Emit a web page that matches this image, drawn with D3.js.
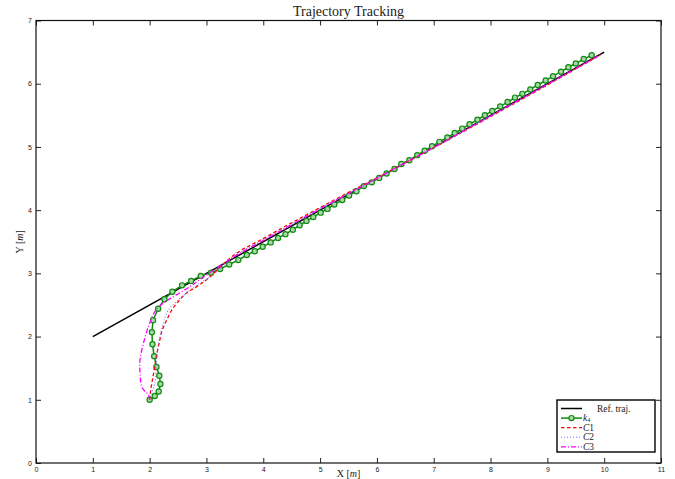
<!DOCTYPE html>
<html>
<head>
<meta charset="utf-8">
<script src="https://cdn.jsdelivr.net/npm/d3@7"></script>
<style>
  body { margin: 0; background: #fff; }
  svg { display: block; }
  .tick text { font-family: "Liberation Sans", Arial, sans-serif; font-size: 7px; fill: #222; }
  .serif { font-family: "Liberation Serif", "DejaVu Serif", serif; fill: #222; }
</style>
</head>
<body>
<svg id="chart" width="675" height="479"></svg>
<script>
// Reference trajectory (straight line)
var refX = [1, 10];
var refY = [2, 6.5];

// k4 controller, one entry per marker
var k4X = [2.00, 2.09, 2.16, 2.19, 2.17, 2.12, 2.08, 2.05, 2.04, 2.06, 2.15, 2.26, 2.40, 2.57, 2.73, 2.90,
  3.08, 3.24, 3.40, 3.56, 3.71, 3.85, 3.99, 4.13, 4.26, 4.39, 4.52, 4.64, 4.76, 4.88, 5.01, 5.13, 5.25,
  5.39, 5.51, 5.64, 5.77, 5.91, 6.04, 6.17, 6.31, 6.43, 6.57, 6.71, 6.84, 6.97, 7.10, 7.24, 7.37, 7.50,
  7.63, 7.77, 7.90, 8.03, 8.17, 8.30, 8.43, 8.56, 8.70, 8.83, 8.97, 9.10, 9.24, 9.37, 9.50, 9.64, 9.78];
var k4Y = [1.00, 1.06, 1.13, 1.25, 1.38, 1.52, 1.69, 1.88, 2.07, 2.26, 2.44, 2.59, 2.71, 2.81, 2.88, 2.96,
  3.01, 3.07, 3.14, 3.21, 3.29, 3.35, 3.42, 3.49, 3.56, 3.62, 3.69, 3.76, 3.83, 3.89, 3.96, 4.02, 4.09,
  4.16, 4.23, 4.30, 4.38, 4.44, 4.51, 4.58, 4.65, 4.73, 4.79, 4.87, 4.94, 5.01, 5.08, 5.15, 5.22, 5.29,
  5.36, 5.43, 5.50, 5.57, 5.64, 5.71, 5.78, 5.84, 5.91, 5.98, 6.05, 6.12, 6.19, 6.26, 6.32, 6.39, 6.45];

// C1 controller
var c1X = [2.00, 2.02, 2.06, 2.09, 2.13, 2.18, 2.22, 2.30, 2.39, 2.50, 2.65, 2.83, 3.03, 3.50, 4.00, 4.50, 5.00, 5.50, 6.00, 6.50, 7.00, 8.00, 9.00, 9.94];
var c1Y = [1.00, 1.16, 1.37, 1.52, 1.74, 1.95, 2.10, 2.26, 2.42, 2.55, 2.69, 2.79, 2.92, 3.30, 3.55, 3.80, 4.04, 4.28, 4.51, 4.75, 4.99, 5.48, 5.98, 6.46];

// C2 controller
var c2X = [2.00, 2.01, 2.09, 2.12, 2.17, 2.24, 2.33, 2.47, 2.65, 2.85, 3.06, 3.50, 4.00, 4.50, 5.00, 5.50, 6.00, 6.50, 7.00, 8.00, 9.00, 9.94];
var c2Y = [1.00, 1.05, 1.26, 1.63, 1.95, 2.21, 2.42, 2.55, 2.69, 2.83, 2.94, 3.28, 3.53, 3.78, 4.03, 4.27, 4.51, 4.75, 4.99, 5.49, 5.99, 6.46];

// C3 controller
var c3X = [2.00, 1.98, 1.92, 1.86, 1.83, 1.83, 1.89, 1.98, 2.09, 2.24, 2.47, 2.71, 2.88, 3.50, 4.00, 4.50, 5.00, 5.50, 6.00, 6.50, 7.00, 8.00, 9.00, 9.94];
var c3Y = [1.00, 1.08, 1.13, 1.21, 1.44, 1.63, 1.89, 2.16, 2.39, 2.53, 2.66, 2.79, 2.90, 3.27, 3.52, 3.77, 4.02, 4.26, 4.50, 4.75, 4.99, 5.49, 5.99, 6.46];

var xTicks = [0, 1, 2, 3, 4, 5, 6, 7, 8, 9, 10, 11];
var yTicks = [0, 1, 2, 3, 4, 5, 6, 7];

var svg = d3.select("#chart");

var plotLeft = 36, plotRight = 661, plotTop = 20.5, plotBottom = 463;

var xScale = d3.scaleLinear().domain([0, 11]).range([plotLeft, plotRight]);
var yScale = d3.scaleLinear().domain([0, 7]).range([plotBottom, plotTop]);

function zipPts(xs, ys) {
  return xs.map(function (x, i) { return [x, ys[i]]; });
}

var line = d3.line()
  .x(function (d) { return xScale(d[0]); })
  .y(function (d) { return yScale(d[1]); });

var smooth = d3.line()
  .x(function (d) { return xScale(d[0]); })
  .y(function (d) { return yScale(d[1]); })
  .curve(d3.curveCatmullRom.alpha(0.5));

// ##### Axes (ticks inside, on all four sides) #####
var tickLen = 5;
var intFmt = d3.format("d");

svg.append("g")
  .attr("transform", "translate(0," + plotBottom + ")")
  .call(d3.axisBottom(xScale).tickValues(xTicks).tickFormat(intFmt).tickSizeInner(-tickLen).tickSizeOuter(0).tickPadding(4))
  .call(function (g) { g.select(".domain").remove(); });

svg.append("g")
  .attr("transform", "translate(0," + plotTop + ")")
  .call(d3.axisTop(xScale).tickValues(xTicks).tickSizeInner(-tickLen).tickSizeOuter(0).tickFormat(""))
  .call(function (g) { g.select(".domain").remove(); });

svg.append("g")
  .attr("transform", "translate(" + plotLeft + ",0)")
  .call(d3.axisLeft(yScale).tickValues(yTicks).tickFormat(intFmt).tickSizeInner(-tickLen).tickSizeOuter(0).tickPadding(4))
  .call(function (g) { g.select(".domain").remove(); });

svg.append("g")
  .attr("transform", "translate(" + plotRight + ",0)")
  .call(d3.axisRight(yScale).tickValues(yTicks).tickSizeInner(-tickLen).tickSizeOuter(0).tickFormat(""))
  .call(function (g) { g.select(".domain").remove(); });

svg.selectAll(".tick line").attr("stroke", "#222").attr("stroke-width", 1);

svg.append("rect")
  .attr("x", plotLeft).attr("y", plotTop)
  .attr("width", plotRight - plotLeft).attr("height", plotBottom - plotTop)
  .attr("fill", "none").attr("stroke", "#111").attr("stroke-width", 1.2);

// ##### Series #####
svg.append("path")
  .attr("d", line(zipPts(refX, refY)))
  .attr("fill", "none").attr("stroke", "#000").attr("stroke-width", 1.5);

var k4Pts = zipPts(k4X, k4Y);
svg.append("path")
  .attr("d", line(k4Pts))
  .attr("fill", "none").attr("stroke", "#108a10").attr("stroke-width", 1.5);

svg.append("g").selectAll("circle")
  .data(k4Pts)
  .enter()
  .append("circle")
  .attr("cx", function (d) { return xScale(d[0]); })
  .attr("cy", function (d) { return yScale(d[1]); })
  .attr("r", 2.6)
  .attr("fill", "#a8d8a8")
  .attr("stroke", "#108a10")
  .attr("stroke-width", 1.2);

svg.append("path")
  .attr("d", smooth(zipPts(c1X, c1Y)))
  .attr("fill", "none").attr("stroke", "#ff0000").attr("stroke-width", 1.3)
  .attr("stroke-dasharray", "3.5,2.5");

svg.append("path")
  .attr("d", smooth(zipPts(c2X, c2Y)))
  .attr("fill", "none").attr("stroke", "#7777ff").attr("stroke-width", 1.1)
  .attr("stroke-dasharray", "1,2");

svg.append("path")
  .attr("d", smooth(zipPts(c3X, c3Y)))
  .attr("fill", "none").attr("stroke", "#ff00ff").attr("stroke-width", 1.3)
  .attr("stroke-dasharray", "5,2,1,2");

// ##### Labels #####
svg.append("text").attr("class", "serif")
  .attr("x", (plotLeft + plotRight) / 2).attr("y", 15.5)
  .attr("text-anchor", "middle").attr("font-size", 14)
  .text("Trajectory Tracking");

var xl = svg.append("text").attr("class", "serif")
  .attr("x", (plotLeft + plotRight) / 2).attr("y", 477)
  .attr("text-anchor", "middle").attr("font-size", 10);
xl.append("tspan").text("X [");
xl.append("tspan").attr("font-style", "italic").text("m");
xl.append("tspan").text("]");

var yl = svg.append("text").attr("class", "serif")
  .attr("transform", "translate(23," + ((plotTop + plotBottom) / 2) + ") rotate(-90)")
  .attr("text-anchor", "middle").attr("font-size", 10);
yl.append("tspan").text("Y [");
yl.append("tspan").attr("font-style", "italic").text("m");
yl.append("tspan").text("]");

// ##### Legend #####
var legend = svg.append("g").attr("transform", "translate(557,400)");
legend.append("rect")
  .attr("width", 98).attr("height", 52)
  .attr("fill", "#fff").attr("stroke", "#000").attr("stroke-width", 1.4);

var legendItems = [
  { label: "Ref. traj.", color: "#000", dash: null, width: 1.5 },
  { label: "k", sub: "4", color: "#108a10", dash: null, width: 1.5, marker: true },
  { label: "C", sub2: "1", color: "#ff0000", dash: "3.5,2.5", width: 1.3 },
  { label: "C", sub2: "2", color: "#7777ff", dash: "1,2", width: 1.1 },
  { label: "C", sub2: "3", color: "#ff00ff", dash: "5,2,1,2", width: 1.3 }
];

legendItems.forEach(function (item, i) {
  var y = 8.5 + i * 9.6;
  legend.append("line")
    .attr("x1", 4).attr("x2", 25).attr("y1", y).attr("y2", y)
    .attr("stroke", item.color).attr("stroke-width", item.width)
    .attr("stroke-dasharray", item.dash);
  if (item.marker) {
    legend.append("circle").attr("cx", 14.5).attr("cy", y).attr("r", 2.6)
      .attr("fill", "#a8d8a8").attr("stroke", item.color).attr("stroke-width", 1.2);
  }
  var t = legend.append("text").attr("class", "serif")
    .attr("y", y + 3).attr("font-size", 9.5);
  if (i === 0) {
    t.attr("x", 40).text(item.label);
  } else if (item.sub) {
    t.attr("x", 26);
    t.append("tspan").attr("font-style", "italic").text(item.label);
    t.append("tspan").attr("font-size", 6).attr("dy", 1).text(item.sub);
  } else {
    t.attr("x", 26);
    t.append("tspan").attr("font-style", "italic").text(item.label);
    t.append("tspan").text(item.sub2);
  }
});
</script>
</body>
</html>
